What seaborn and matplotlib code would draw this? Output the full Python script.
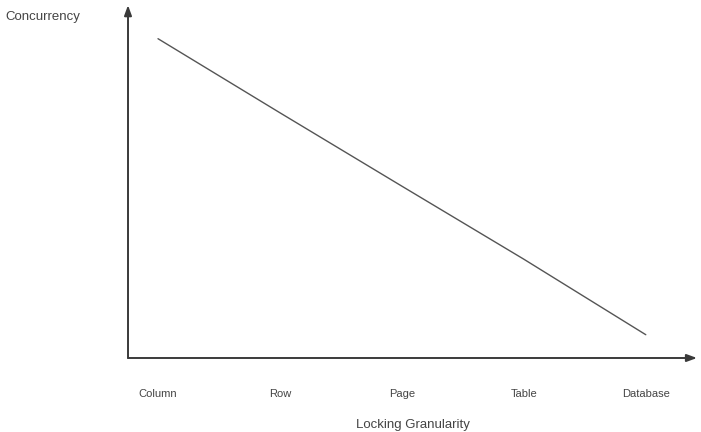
import matplotlib
matplotlib.use("Agg")
import matplotlib.pyplot as plt
import seaborn as sns
import pandas as pd

# Locking granularity levels and their relative concurrency
granularity = ["Column", "Row", "Page", "Table", "Database"]
concurrency = [90.5, 69.5, 48.7, 28.0, 6.6]

sns.set_style("white")
plt.rcParams["font.family"] = ["Liberation Sans", "DejaVu Sans"]

df = pd.DataFrame({"Locking Granularity": granularity, "Concurrency": concurrency})

fig = plt.figure(figsize=(7.01, 4.32), dpi=100)
ax = fig.add_axes([0.1826, 0.1713, 0.8117, 0.8167])

sns.lineplot(data=df, x="Locking Granularity", y="Concurrency", ax=ax,
             color="#555555", linewidth=1.0, sort=False)

ax.set_xlim(-0.246, 4.42)
ax.set_ylim(0, 100)

for s in ax.spines.values():
    s.set_visible(False)

axis_color = "#3a3a3a"
# axes drawn as arrows
ax.annotate("", xy=(1.0, 0), xytext=(0, 0), xycoords="axes fraction",
            arrowprops=dict(arrowstyle="-|>,head_length=0.6,head_width=0.22",
                            color=axis_color, lw=1.4, shrinkA=0, shrinkB=0))
ax.annotate("", xy=(0, 1.0), xytext=(0, 0), xycoords="axes fraction",
            arrowprops=dict(arrowstyle="-|>,head_length=0.6,head_width=0.22",
                            color=axis_color, lw=1.4, shrinkA=0, shrinkB=0))

ax.set_yticks([])
ax.set_ylabel("")
ax.tick_params(axis="x", length=0, pad=22, labelsize=8, labelcolor="#444444")
ax.set_xlabel("Locking Granularity", fontsize=9.5, color="#444444", labelpad=15)

fig.text(5 / 701, 1 - 17 / 432, "Concurrency", ha="left", va="center",
         fontsize=9.5, color="#444444")

fig.savefig("out.png", dpi=100, facecolor="white")
